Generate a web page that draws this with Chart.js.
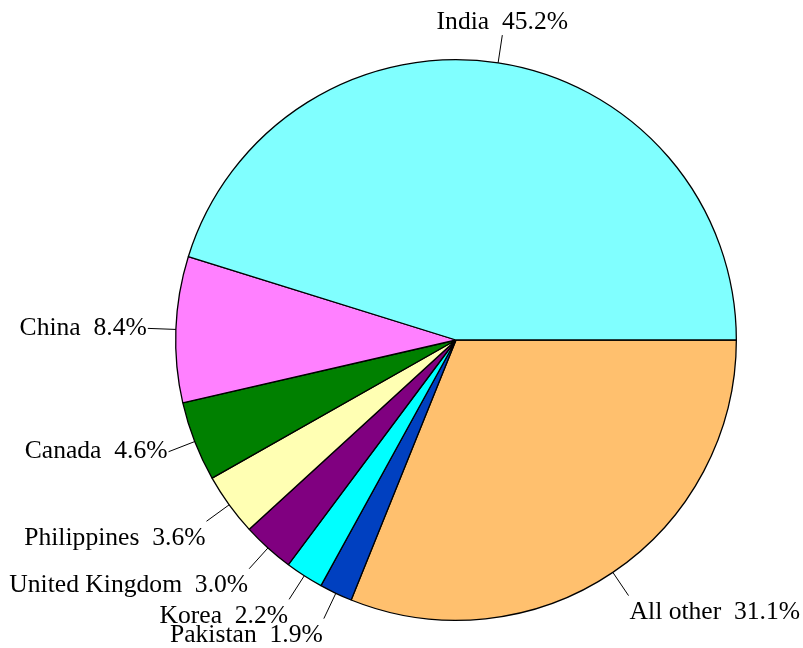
<!DOCTYPE html>
<html>
<head>
<meta charset="utf-8">
<script src="https://cdn.jsdelivr.net/npm/chart.js@4"></script>
<style>
  html, body { margin: 0; padding: 0; background: #ffffff; }
  #wrap { width: 803px; height: 648px; }
</style>
</head>
<body>
<div id="wrap"><canvas id="pieChart" width="803" height="648"></canvas></div>
<script>
// Countries in the order they appear counter-clockwise from 3 o'clock
const countries = ['India', 'China', 'Canada', 'Philippines', 'United Kingdom', 'Korea', 'Pakistan', 'All other'];
const shares = [45.2, 8.4, 4.6, 3.6, 3.0, 2.2, 1.9, 31.1];
const sliceColors = ['#80FFFF', '#FF80FF', '#008000', '#FFFFB3', '#800080', '#00FFFF', '#0040C0', '#FFC06E'];

// Chart.js draws clockwise, R draws counter-clockwise: reverse the order
const order = countries.map((_, i) => i).reverse();
const labels = order.map(i => `${countries[i]}  ${shares[i].toFixed(1)}%`);

const outsideLabels = {
    id: 'outsideLabels',
    afterDatasetsDraw(chart) {
        const ctx = chart.ctx;
        const meta = chart.getDatasetMeta(0);
        ctx.save();
        ctx.font = "25.6px 'Liberation Serif', 'DejaVu Serif', serif";
        ctx.fillStyle = '#000';
        ctx.strokeStyle = '#000';
        ctx.lineWidth = 1;
        meta.data.forEach((arc, i) => {
            const { x, y, startAngle, endAngle, outerRadius } = arc.getProps(['x', 'y', 'startAngle', 'endAngle', 'outerRadius'], true);
            const mid = (startAngle + endAngle) / 2;
            const c = Math.cos(mid), s = Math.sin(mid);
            const x0 = x + c * outerRadius, y0 = y + s * outerRadius;
            const x1 = x + c * outerRadius * 1.1, y1 = y + s * outerRadius * 1.1;
            ctx.beginPath();
            ctx.moveTo(x0, y0);
            ctx.lineTo(x1, y1);
            ctx.stroke();

            ctx.textAlign = c > 0.3 ? 'left' : (c < -0.3 ? 'right' : 'center');
            ctx.textBaseline = s < -0.5 ? 'bottom' : (s > 0.5 ? 'top' : 'middle');
            const dx = c > 0.3 ? 1 : (c < -0.3 ? -1 : 0);
            const dy = s > 0.5 ? 4 : 0;
            ctx.fillText(chart.data.labels[i], x1 + dx, y1 + dy);
        });
        ctx.restore();
    }
};

new Chart(document.getElementById('pieChart'), {
    type: 'pie',
    data: {
        labels: labels,
        datasets: [{
            data: order.map(i => shares[i]),
            backgroundColor: order.map(i => sliceColors[i]),
            borderColor: '#000',
            borderWidth: 1.3
        }]
    },
    options: {
        responsive: false,
        animation: false,
        rotation: 90,
        layout: { padding: { left: 175, right: 66, top: 59, bottom: 27 } },
        plugins: {
            legend: { display: false },
            tooltip: { enabled: false }
        }
    },
    plugins: [outsideLabels]
});
</script>
</body>
</html>
